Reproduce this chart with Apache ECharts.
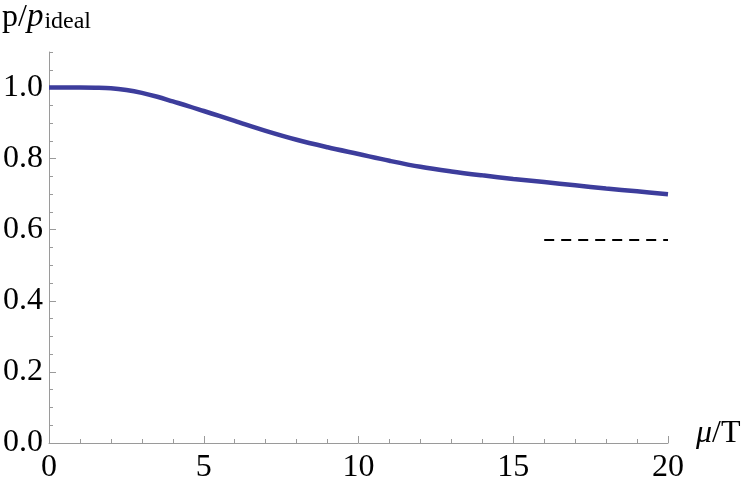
<!DOCTYPE html>
<html>
<head>
<meta charset="utf-8">
<script src="https://cdn.jsdelivr.net/npm/echarts@6/dist/echarts.min.js"></script>
<style>html,body{margin:0;padding:0;background:#fff}#c{width:750px;height:492px}</style>
</head>
<body>
<div id="c"></div>
<script>
const muT = [0,1,1.5,2,2.5,3,3.5,4,4.5,5,5.5,6,7,8,9,10,11,12,13,14,15,16,17,18,19,20];
const ratio = [1.0,1.0,0.9995,0.998,0.993,0.985,0.974,0.961,0.948,0.934,0.920,0.906,0.878,0.853,0.832,0.813,0.794,0.777,0.764,0.753,0.743,0.734,0.725,0.716,0.708,0.700];
const limitX = [16,20];
const limitY = [0.5714,0.5714];
const yLabels = [0,0.2,0.4,0.6,0.8,1.0];
const yMinor = [0,0.05,0.1,0.15,0.2,0.25,0.3,0.35,0.4,0.45,0.5,0.55,0.6,0.65,0.7,0.75,0.8,0.85,0.9,0.95,1.0,1.05,1.1];
const xLabels = [0,5,10,15,20];

const font = 'Liberation Serif';
const chart = echarts.init(document.getElementById('c'));
const axisGray = '#9a9a9a';
chart.setOption({
  animation:false,
  title:{
    text:'{a|p/}{b|p}{c|ideal}',
    left:2, top:1, padding:0,
    textStyle:{
      fontWeight:'normal',
      rich:{
        a:{fontFamily:font,fontSize:32,fontWeight:'normal',color:'#000'},
        b:{fontFamily:font,fontSize:33,fontStyle:'italic',fontWeight:'normal',color:'#000'},
        c:{fontFamily:font,fontSize:24,fontWeight:'normal',color:'#000',padding:[9,0,0,1]}
      }
    }
  },
  grid:{left:48,right:82,top:52,bottom:49,containLabel:false},
  xAxis:{
    type:'value',min:0,max:20,interval:5,
    axisLine:{lineStyle:{color:axisGray,width:1}},
    axisTick:{inside:true,length:7,lineStyle:{color:axisGray}},
    minorTick:{show:true,splitNumber:5,length:4,lineStyle:{color:axisGray}},
    splitLine:{show:false},
    axisLabel:{fontFamily:font,fontSize:32,color:'#000',margin:9,customValues:xLabels},
    name:'{i|μ}{n|/T}',nameLocation:'end',nameGap:28,
    nameTextStyle:{padding:[0,0,18,0],rich:{i:{fontFamily:font,fontSize:32,fontStyle:'italic',color:'#000'},n:{fontFamily:font,fontSize:32,color:'#000'}}}
  },
  yAxis:[{
    type:'value',min:0,max:1.1,
    axisLine:{show:true,lineStyle:{color:axisGray,width:1}},
    axisTick:{show:true,inside:true,length:7,lineStyle:{color:axisGray},customValues:yLabels},
    splitLine:{show:false},
    axisLabel:{fontFamily:font,fontSize:32,color:'#000',margin:6,customValues:yLabels,
      formatter:v=>v.toFixed(1)}
  },{
    type:'value',min:0,max:1.1,position:'left',
    axisLine:{show:false},
    axisTick:{show:true,inside:true,length:4,lineStyle:{color:axisGray},customValues:yMinor},
    splitLine:{show:false},
    axisLabel:{show:false}
  }],
  series:[{
    type:'line',
    data:muT.map((x,i)=>[x,ratio[i]]),
    smooth:0.35,showSymbol:false,
    lineStyle:{color:'#3d3d9c',width:4.5},
    z:3
  },{
    type:'line',
    data:limitX.map((x,i)=>[x,limitY[i]]),
    showSymbol:false,
    lineStyle:{color:'#000',width:2,type:[10,7]}
  }]
});
</script>
</body>
</html>
